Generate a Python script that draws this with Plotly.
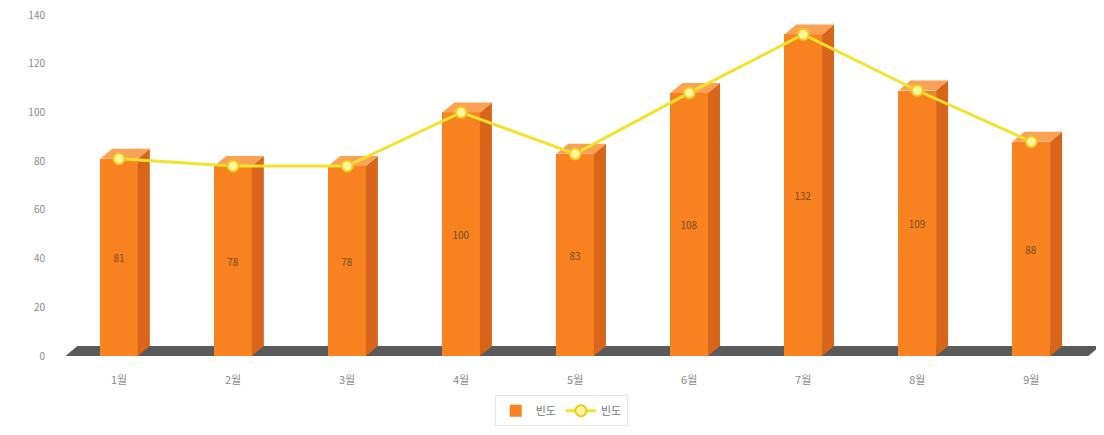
import plotly.graph_objects as go

months = ["1월", "2월", "3월", "4월", "5월", "6월", "7월", "8월", "9월"]
bar_values = [81, 78, 78, 100, 83, 108, 132, 109, 88]
line_values = [81, 78, 78, 100, 83, 108, 132, 109, 88]
series_name = "빈도"
y_ticks = [0, 20, 40, 60, 80, 100, 120, 140]

FONT = "Noto Sans CJK KR"
BAR_W = 0.33      # front face width (category units)
DX = 0.105        # 3D depth, horizontal (category units)
DY = 4.1          # 3D depth, vertical (value units)

front = "#F7821F"
top_c = "#FBA155"
side_c = "#D9651A"

xs = list(range(len(months)))
fig = go.Figure()

# front faces (real bars with labels)
fig.add_trace(go.Bar(
    x=xs, y=bar_values, width=BAR_W, name=series_name,
    marker=dict(color=front, line=dict(width=0)),
    text=[str(v) for v in bar_values], textposition="inside",
    insidetextanchor="middle", textangle=0,
    textfont=dict(family=FONT, size=10, color="#7a4b26"),
    showlegend=True,
))

# side faces and top faces derived from the data
sx, sy, tx, ty = [], [], [], []
for x, v in zip(xs, bar_values):
    r = x + BAR_W / 2
    l = x - BAR_W / 2
    sx += [r, r + DX, r + DX, r, r, None]
    sy += [0, DY, v + DY, v, 0, None]
    tx += [l, r, r + DX, l + DX, l, None]
    ty += [v, v, v + DY, v + DY, v, None]
fig.add_trace(go.Scatter(x=sx, y=sy, mode="lines", fill="toself",
                         fillcolor=side_c, line=dict(width=0, color=side_c),
                         showlegend=False, hoverinfo="skip"))
fig.add_trace(go.Scatter(x=tx, y=ty, mode="lines", fill="toself",
                         fillcolor=top_c, line=dict(width=0, color=top_c),
                         showlegend=False, hoverinfo="skip"))

# line series
fig.add_trace(go.Scatter(
    x=xs, y=line_values, mode="lines+markers", name=series_name,
    line=dict(color="#F3E22C", width=3),
    marker=dict(size=11, color="#FFF59A", line=dict(color="#F2C81E", width=2)),
))

# floor slab
n = len(months)
x0, x1 = -0.47, n - 0.5
fig.add_shape(type="path", layer="below", xref="x", yref="y",
              path=f"M {x0} 0 L {x1} 0 L {x1 + DX} {DY} L {x0 + DX} {DY} Z",
              fillcolor="#5a5a5a", line=dict(width=0))

fig.update_layout(
    width=1096, height=427,
    margin=dict(l=54, r=2, t=7, b=79, autoexpand=False),
    paper_bgcolor="white", plot_bgcolor="white",
    font=dict(family=FONT, size=11, color="#8a8a8a"),
    bargap=0,
    legend=dict(orientation="h", x=0.48, xanchor="center", y=-0.115, yanchor="top",
                font=dict(family=FONT, size=11, color="#777"),
                bordercolor="#e6e6e6", borderwidth=1, itemwidth=30),
)
fig.update_xaxes(range=[-0.5, n - 0.5 + 0.12], tickmode="array", tickvals=xs,
                 ticktext=months, showgrid=False, zeroline=False, showline=False,
                 ticks="", ticklabelstandoff=16, automargin=False,
                 tickfont=dict(family=FONT, size=11, color="#8a8a8a"))
fig.update_yaxes(range=[0, 140], tickmode="array", tickvals=y_ticks,
                 showgrid=False, zeroline=False, showline=False, ticks="",
                 ticklabelstandoff=16, automargin=False, ticklabeloverflow="allow",
                 tickfont=dict(family=FONT, size=10, color="#8a8a8a"))

fig.write_html("out.html")
